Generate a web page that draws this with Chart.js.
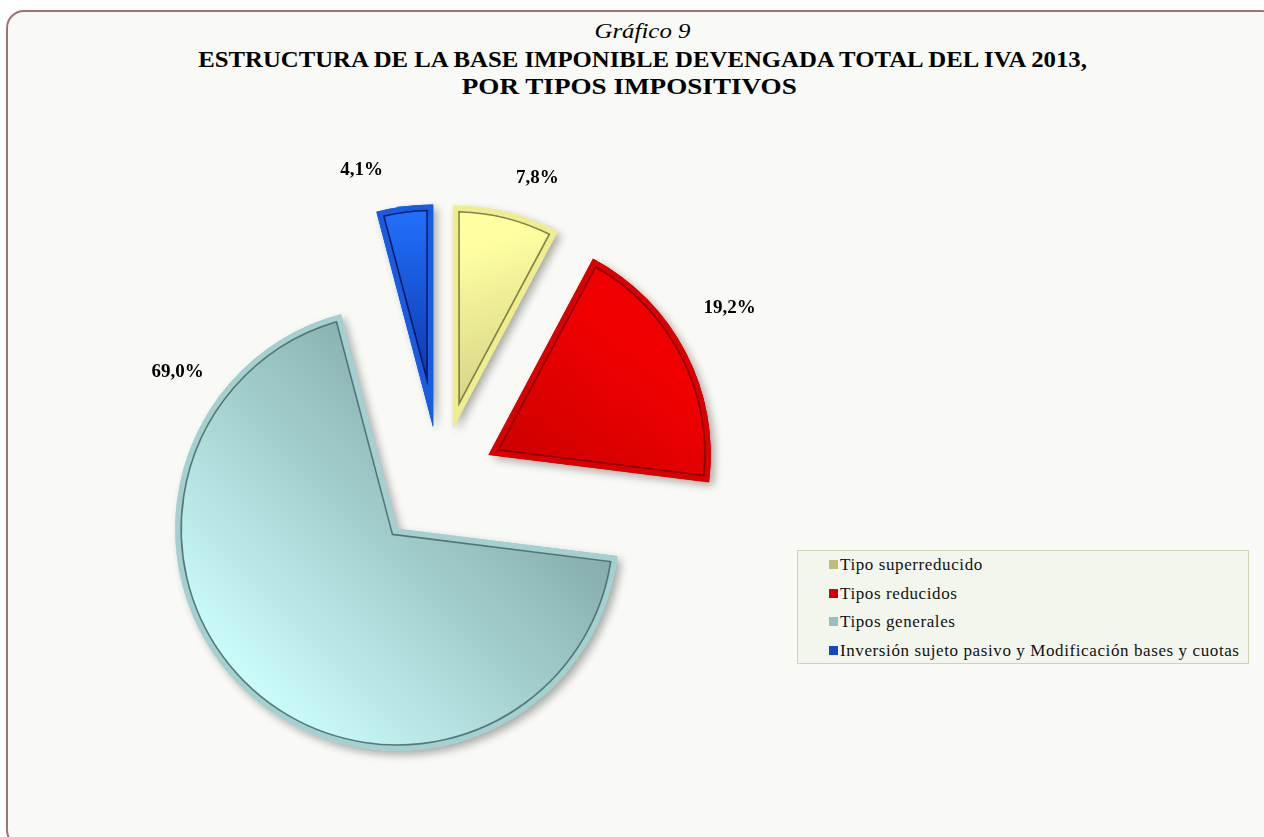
<!DOCTYPE html>
<html lang="es">
<head>
<meta charset="utf-8">
<title>Gráfico 9</title>
<script src="https://cdn.jsdelivr.net/npm/chart.js@4.4.0/dist/chart.umd.min.js"></script>
<style>
    html, body { margin: 0; padding: 0; background: #ffffff; width: 1264px; height: 837px; overflow: hidden; }
    .frame {
        position: absolute; left: 6px; top: 10px; width: 1270px; height: 834px;
        border: 2px solid #9e7474; border-radius: 18px; background: #f9f9f5;
    }
    #myChart { position: absolute; left: 0; top: 0; }
    .titulo {
        position: absolute; left: 0; top: 16px; width: 1285px; text-align: center;
        font-family: "Liberation Serif", "Times New Roman", serif; color: #000;
    }
    .titulo div { height: 27px; line-height: 27px; }
    .titulo span { display: inline-block; transform-origin: 50% 50%; white-space: nowrap; }
    .titulo .num { font-style: italic; font-size: 22px; transform: scaleX(1.13); }
    .titulo .main { font-weight: bold; font-size: 24px; }
    .titulo .l1 { transform: scaleX(1.032); }
    .titulo .l2 { transform: translateX(-13px) scaleX(1.13); }
    .leyenda {
        position: absolute; left: 797px; top: 550px; width: 450px; height: 112px;
        border: 1px solid #c9d6b0; background: #f3f6ec;
        font-family: "Liberation Serif", "Times New Roman", serif; font-size: 17px; color: #111;
        letter-spacing: 0.6px;
    }
    .leyenda .item { position: absolute; left: 31px; height: 20px; line-height: 20px; white-space: nowrap; }
    .leyenda .marca { display: inline-block; width: 9px; height: 9px; margin-right: 2px; vertical-align: 1px; }
</style>
</head>
<body>
<div class="frame"></div>
<div class="titulo">
    <div style="height:30px;line-height:30px"><span class="num">Gráfico 9</span></div>
    <div><span class="main l1">ESTRUCTURA DE LA BASE IMPONIBLE DEVENGADA TOTAL DEL IVA 2013,</span></div>
    <div><span class="main l2">POR TIPOS IMPOSITIVOS</span></div>
</div>
<canvas id="myChart" width="1264" height="837"></canvas>
<div class="leyenda" id="leyenda"></div>

<script>
// datos del gráfico
const categorias = ["Tipo superreducido", "Tipos reducidos", "Tipos generales",
    "Inversión sujeto pasivo y Modificación bases y cuotas"];
const valores = [7.8, 19.2, 69.0, 4.1];
const etiquetas = ["7,8%", "19,2%", "69,0%", "4,1%"];

// estilos (colores claro / oscuro, borde, línea interior)
const colorClaro = ["#ffffa2", "#f00000", "#cbfcfc", "#2273ff"];
const colorOscuro = ["#c8c47c", "#c00000", "#7a9e9e", "#0a2a9c"];
const colorBorde = ["#eeee90", "#d80000", "#a4d0d0", "#1a5ce0"];
const colorLinea = ["rgba(70,70,30,0.65)", "rgba(90,0,0,0.65)", "rgba(40,70,70,0.65)", "rgba(0,10,70,0.8)"];
const colorMarca = ["#bfbb78", "#d40000", "#98c0c0", "#1446c8"];
// direcciones de los degradados (en radios, desde el centro)
const degradado = [[0, -1.0, 0.3, -0.15], [0.7, -0.7, 0.1, 0.1], [-0.9, 0.9, 0.4, -0.4], [0, -1.25, 0, -0.25]];

const RADIO = 222;
const INSET = 6;

function relleno(c) {
    const chart = c.chart;
    const area = chart.chartArea;
    const i = c.dataIndex;
    if (!area || i === undefined) return colorClaro[0];
    const cx = (area.left + area.right) / 2;
    const cy = (area.top + area.bottom) / 2;
    const d = degradado[i];
    const g = chart.ctx.createLinearGradient(cx + d[0] * RADIO, cy + d[1] * RADIO, cx + d[2] * RADIO, cy + d[3] * RADIO);
    g.addColorStop(0, colorClaro[i]);
    g.addColorStop(1, colorOscuro[i]);
    return g;
}

// traza la porción (con o sin margen interior)
function cuna(ctx, arc, inset) {
    const p = arc.getProps(['x', 'y', 'startAngle', 'endAngle', 'outerRadius'], true);
    const circ = p.endAngle - p.startAngle;
    const mid = (p.startAngle + p.endAngle) / 2;
    const r = p.outerRadius - inset;
    const d = inset / Math.sin(circ / 2);
    const delta = inset ? Math.asin(inset / r) : 0;
    ctx.beginPath();
    ctx.moveTo(p.x + Math.cos(mid) * d, p.y + Math.sin(mid) * d);
    ctx.arc(p.x, p.y, r, p.startAngle + delta, p.endAngle - delta);
    ctx.closePath();
}

// separa las porciones del centro
const separarPlugin = {
    id: 'separar',
    afterUpdate(chart, args, opts) {
        const meta = chart.getDatasetMeta(0);
        meta.data.forEach((arc, i) => {
            const mid = (arc.startAngle + arc.endAngle) / 2;
            arc.x += Math.cos(mid) * opts.distancia[i];
            arc.y += Math.sin(mid) * opts.distancia[i];
        });
    }
};

// sombra y relieve
const relievePlugin = {
    id: 'relieve',
    beforeDatasetsDraw(chart) {
        const ctx = chart.ctx;
        chart.getDatasetMeta(0).data.forEach((arc, i) => {
            ctx.save();
            ctx.shadowColor = 'rgba(0,0,0,0.32)';
            ctx.shadowBlur = 9;
            ctx.shadowOffsetX = 4;
            ctx.shadowOffsetY = 4;
            cuna(ctx, arc, 0);
            ctx.fillStyle = colorBorde[i];
            ctx.fill();
            ctx.restore();
        });
    },
    afterDatasetsDraw(chart, args, opts) {
        const ctx = chart.ctx;
        const meta = chart.getDatasetMeta(0);
        meta.data.forEach((arc, i) => {
            ctx.save();
            cuna(ctx, arc, INSET);
            ctx.lineWidth = 1.6;
            ctx.strokeStyle = colorLinea[i];
            ctx.stroke();
            ctx.restore();
        });
        // etiquetas de porcentaje
        ctx.save();
        ctx.font = 'bold 19px "Liberation Serif", "Times New Roman", serif';
        ctx.fillStyle = '#000';
        ctx.textAlign = 'center';
        ctx.textBaseline = 'middle';
        meta.data.forEach((arc, i) => {
            const a = opts.anclas[i];
            const ang = (a.angulo - 90) * Math.PI / 180;
            ctx.fillText(etiquetas[i], arc.x + Math.cos(ang) * a.dist, arc.y + Math.sin(ang) * a.dist);
        });
        ctx.restore();
    }
};

new Chart("myChart", {
    type: "pie",
    data: {
        labels: categorias,
        datasets: [{
            data: valores,
            backgroundColor: relleno,
            borderColor: colorBorde,
            borderWidth: INSET,
            borderAlign: 'inner'
        }]
    },
    options: {
        responsive: false,
        animation: false,
        radius: RADIO,
        layout: { padding: { left: 0, right: 384, top: 130, bottom: 7 } },
        plugins: {
            legend: { display: false },
            title: { display: false },
            tooltip: { enabled: false },
            separar: { distancia: [54, 55, 65, 54] },
            relieve: {
                anclas: [
                    { angulo: 18.7, dist: 263 },
                    { angulo: 58.6, dist: 282 },
                    { angulo: 305.6, dist: 270 },
                    { angulo: 344.4, dist: 266 }
                ]
            }
        }
    },
    plugins: [separarPlugin, relievePlugin]
});

// leyenda
const leyenda = document.getElementById('leyenda');
categorias.forEach((nombre, i) => {
    const item = document.createElement('div');
    item.className = 'item';
    item.style.top = (4 + i * 28.7) + 'px';
    const marca = document.createElement('span');
    marca.className = 'marca';
    marca.style.background = colorMarca[i];
    item.appendChild(marca);
    item.appendChild(document.createTextNode(nombre));
    leyenda.appendChild(item);
});
</script>
</body>
</html>
